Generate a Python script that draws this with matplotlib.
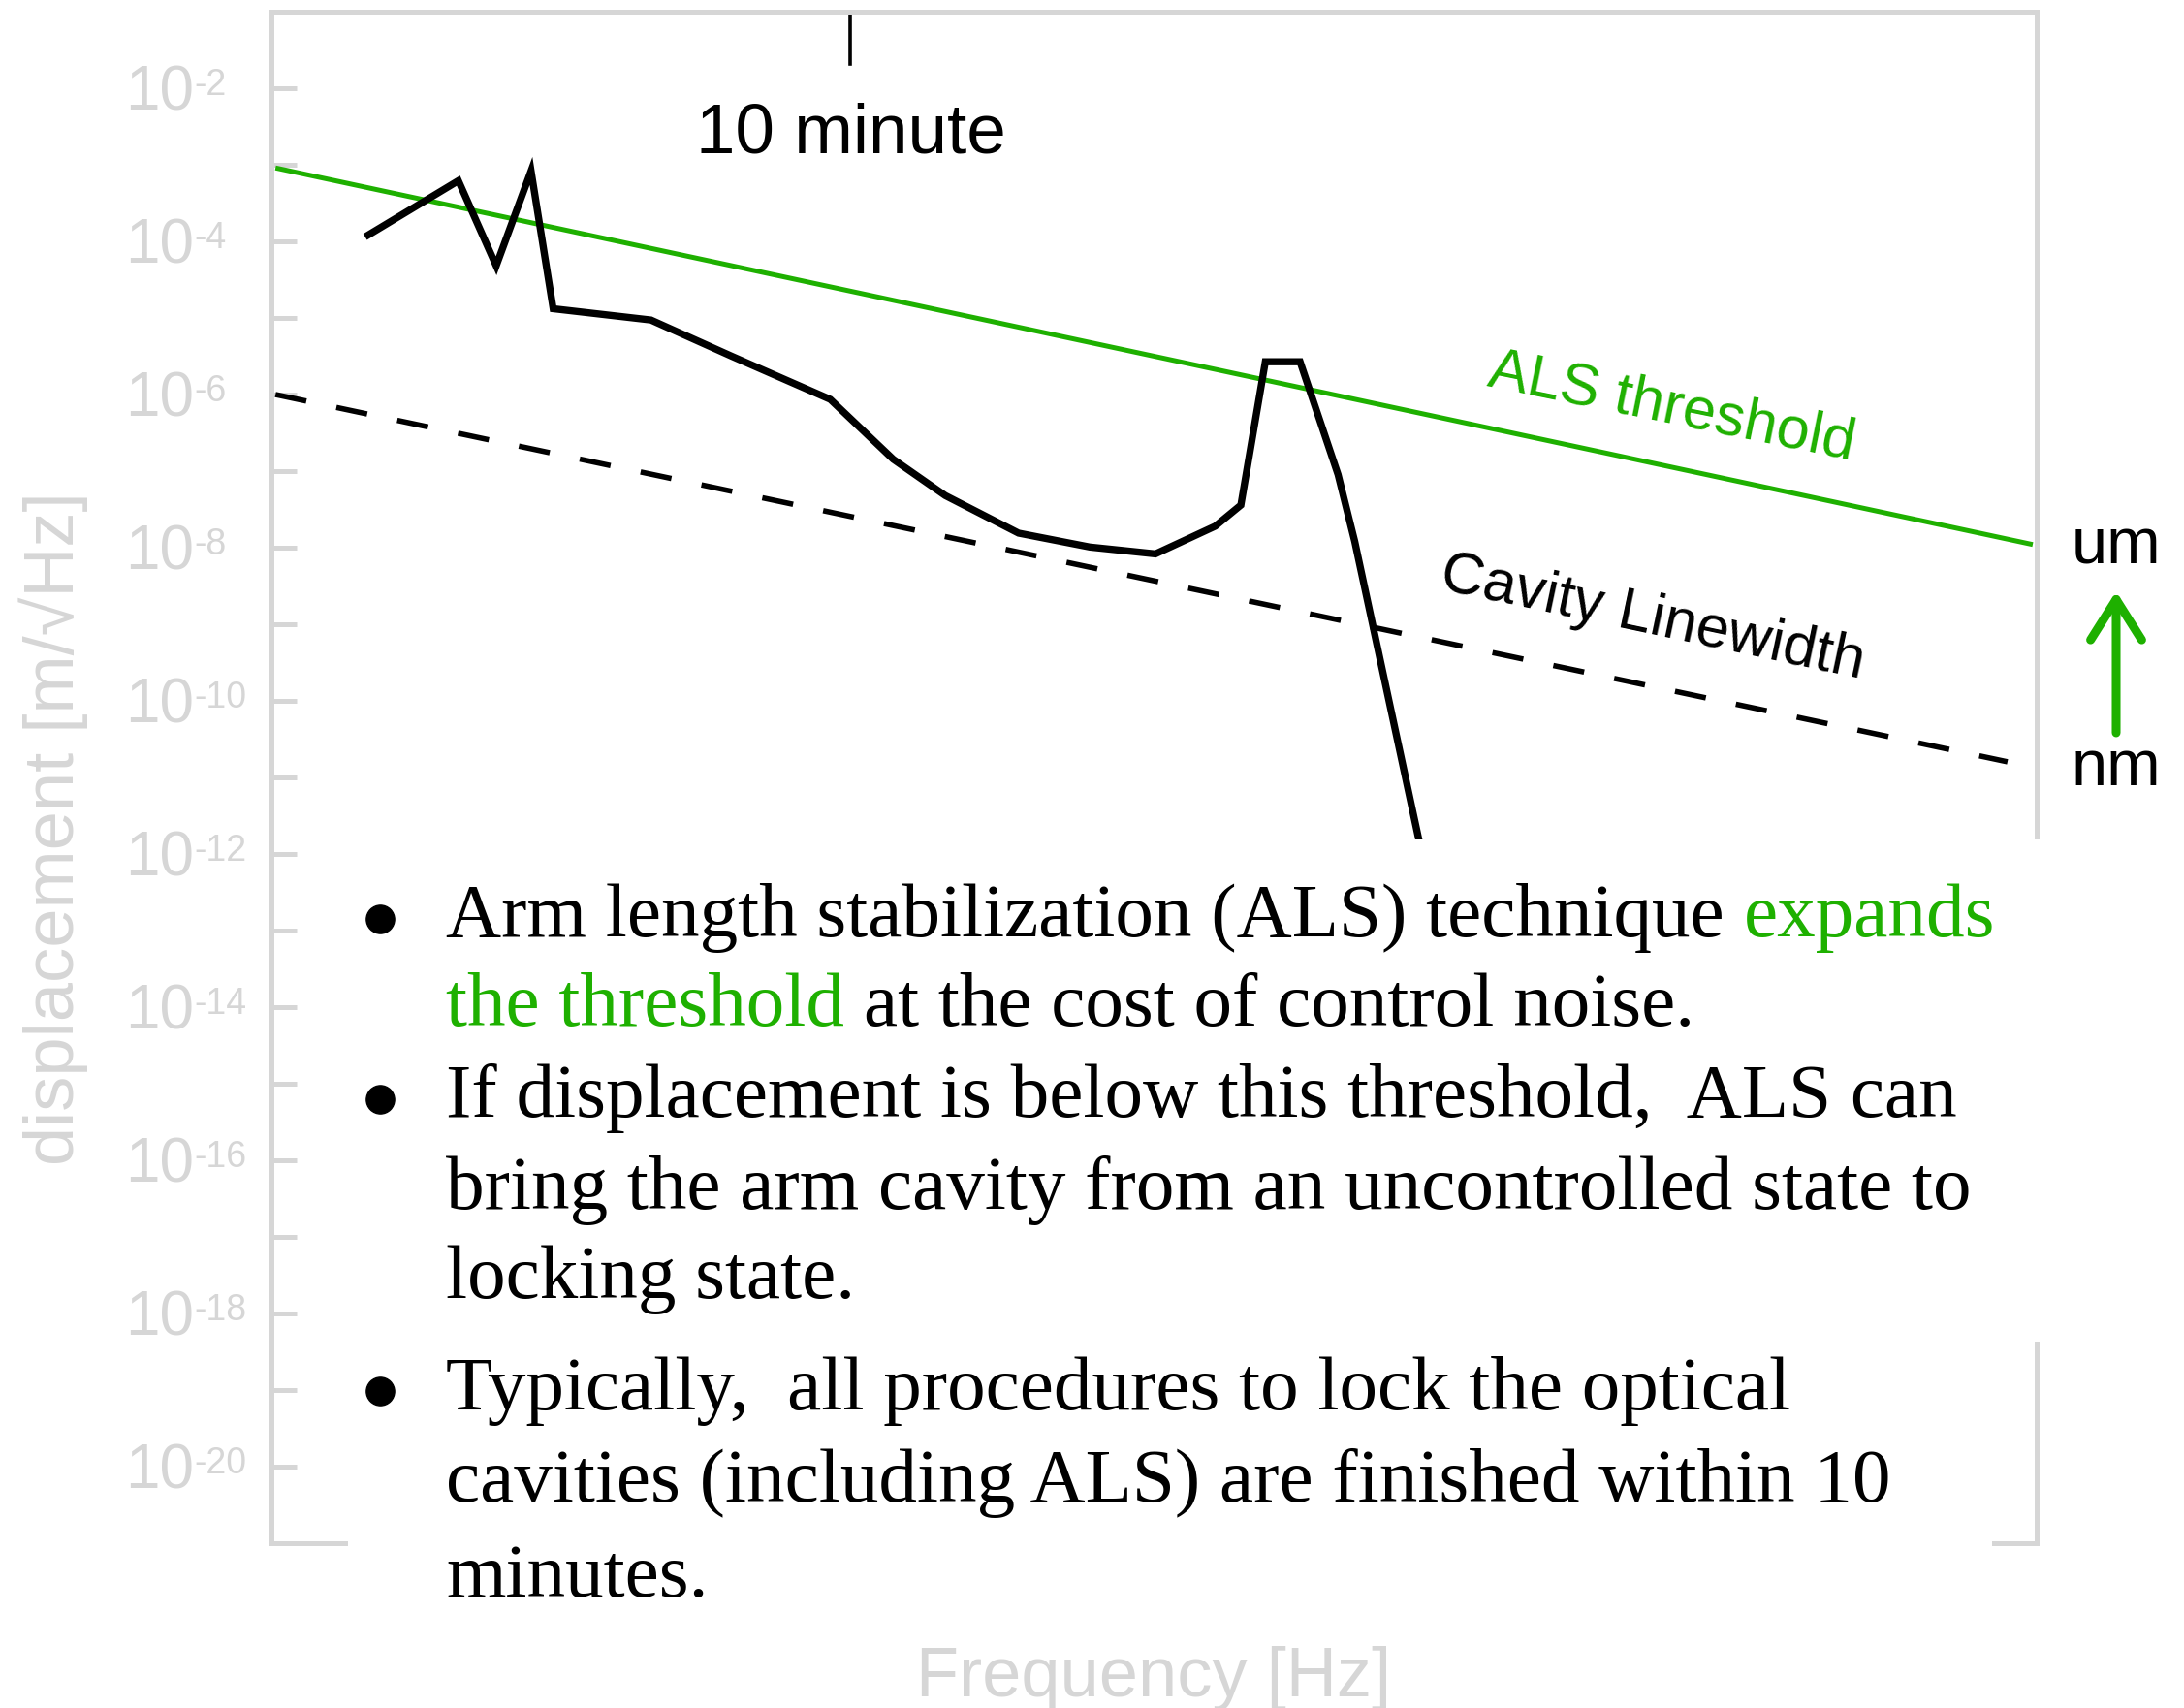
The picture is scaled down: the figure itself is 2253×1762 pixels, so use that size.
import matplotlib
matplotlib.use('Agg')
import matplotlib.pyplot as plt
import matplotlib.transforms as mtransforms
from matplotlib.patches import Rectangle, FancyArrowPatch
from matplotlib.text import Annotation
from matplotlib.lines import Line2D

# ---- data ----
freq_noise = [1.60e-4, 2.48e-4, 2.98e-4, 3.53e-4, 3.93e-4, 6.32e-4, 9.35e-4,
              1.51e-3, 2.05e-3, 2.64e-3, 3.77e-3, 5.33e-3, 7.33e-3, 9.8e-3,
              1.11e-2, 1.25e-2, 1.48e-2, 1.78e-2, 1.93e-2, 2.65e-2]
disp_noise = [1.21e-4, 6.2e-4, 4.8e-5, 8.3e-4, 1.32e-5, 9.4e-6, 3.17e-6,
              8.65e-7, 1.43e-7, 4.8e-8, 1.55e-8, 1.02e-8, 8.3e-9, 1.91e-8,
              3.6e-8, 2.68e-6, 2.68e-6, 9.0e-8, 1.21e-8, 1.31e-12]
freq_als = [1.02e-4, 0.52]
disp_als = [9.1e-4, 1.1e-8]
freq_cav = [1.02e-4, 0.46]
disp_cav = [1.0e-6, 1.6e-11]
ten_minute = 1.0 / 600
ytick_exp = list(range(-2, -21, -2))
yminor_exp = list(range(-3, -20, -2))

GREEN = '#1eb000'
GREY = '#d6d6d6'
SANS = ['Liberation Sans', 'DejaVu Sans']
SERIF = ['Liberation Serif', 'DejaVu Serif']

W, H = 2253, 1762
fx = lambda px: px / W
fy = lambda py: 1 - py / H

fig = plt.figure(figsize=(W / 100, H / 100), dpi=100)
ax = fig.add_axes([fx(280), fy(1592), (2101 - 280) / W, (1592 - 12) / H])
ax.set_xscale('log')
ax.set_yscale('log')
ax.set_xlim(1e-4, 0.53)
ax.set_ylim(1e-21, 1e-1)

for s in ax.spines.values():
    s.set_color(GREY)
    s.set_linewidth(3.6)

ax.set_yticks([10.0 ** e for e in ytick_exp])
ax.set_yticks([10.0 ** e for e in yminor_exp], minor=True)
ax.tick_params(axis='y', which='both', direction='in', length=19, width=3.6,
               color=GREY, labelleft=False, right=False)
ax.tick_params(axis='x', which='both', bottom=False, top=False, labelbottom=False)

# curves
ax.plot(freq_als, disp_als, color=GREEN, lw=3.6, solid_capstyle='butt')
cav, = ax.plot(freq_cav, disp_cav, color='k', lw=4.0)
cav.set_dashes([5.85, 5.7])
ax.plot(freq_noise, disp_noise, color='k', lw=5.3, solid_joinstyle='miter')

# 10 minute marker
ax.axvline(ten_minute, ymin=0.966, ymax=1.0, color='k', lw=2.6)
ax.text(ten_minute, 0.9076, '10 minute', transform=ax.get_xaxis_transform(),
        ha='center', va='baseline', fontsize=52.5, family=SANS)

ax.text(0.0902, 6.65e-7, 'ALS threshold', color=GREEN, fontsize=44, family=SANS,
        ha='center', va='center', rotation=-11.5, rotation_mode='anchor')
ax.text(0.0821, 1.16e-9, 'Cavity Linewidth', color='k', fontsize=44, family=SANS,
        ha='center', va='center', rotation=-12, rotation_mode='anchor')

# y tick labels: "10" with a small raised exponent
ytr = mtransforms.blended_transform_factory(ax.transAxes, ax.transData)
for e in ytick_exp:
    base = ax.annotate('10', xy=(-0.0829, 10.0 ** e), xycoords=ytr,
                       xytext=(0, -16.5), textcoords='offset points',
                       ha='left', va='baseline', fontsize=46, color=GREY,
                       family=SANS, annotation_clip=False)
    ax.annotate('-%d' % (-e), xy=(1, 0), xycoords=base, xytext=(0.5, 21),
                textcoords='offset points', ha='left', va='baseline',
                fontsize=27, color=GREY, family=SANS, annotation_clip=False)

fig.text(fx(55), fy(855), 'displacement [m/\u221aHz]', rotation=90, ha='center',
         va='center', fontsize=52, color=GREY, family=SANS)
fig.text(fx(1190), fy(1750), 'Frequency [Hz]', ha='center', va='baseline',
         fontsize=52, color=GREY, family=SANS)

# um / nm arrow on the right
fig.text(fx(2183), fy(565), 'um', ha='center', va='center', fontsize=48, family=SANS)
fig.text(fx(2183), fy(793), 'nm', ha='center', va='center', fontsize=48, family=SANS)
arr = FancyArrowPatch((fx(2183), fy(756)), (fx(2183), fy(610)),
                      transform=fig.transFigure, color=GREEN, lw=6.5,
                      arrowstyle='->,head_length=30,head_width=19',
                      mutation_scale=1, shrinkA=0, shrinkB=0)
fig.add_artist(arr)

# white text panel covering the lower part of the frame
fig.add_artist(Rectangle((fx(359), fy(1384)), (2110 - 359) / W, (1384 - 866) / H,
                         transform=fig.transFigure, facecolor='white',
                         edgecolor='none', zorder=2))
fig.add_artist(Rectangle((fx(359), fy(1720)), (2055 - 359) / W, (1720 - 1384) / H,
                         transform=fig.transFigure, facecolor='white',
                         edgecolor='none', zorder=2))

FS = 57
SPACE = 0.25 * FS


def text_line(y_px, parts, x_px=460):
    prev = None
    for txt, col in parts:
        if prev is None:
            prev = fig.text(fx(x_px), fy(y_px), txt, color=col, fontsize=FS,
                            family=SERIF, ha='left', va='baseline', zorder=4)
        else:
            a = Annotation(txt, xy=(1, 0), xycoords=prev, xytext=(SPACE, 0),
                           textcoords='offset points', ha='left', va='bottom',
                           color=col, fontsize=FS, family=SERIF, zorder=4)
            fig.add_artist(a)
            prev = a


text_line(966, [('Arm length stabilization (ALS) technique', 'k'), ('expands', GREEN)])
text_line(1058, [('the threshold', GREEN), ('at the cost of control noise.', 'k')])
text_line(1152, [('If displacement is below this threshold,  ALS can', 'k')])
text_line(1247, [('bring the arm cavity from an uncontrolled state to', 'k')])
text_line(1339, [('locking state.', 'k')])
text_line(1454, [('Typically,  all procedures to lock the optical', 'k')])
text_line(1549, [('cavities (including ALS) are finished within 10', 'k')])
text_line(1647, [('minutes.', 'k')])

for by in [948, 1134, 1435]:
    fig.add_artist(Line2D([fx(392)], [fy(by)], marker='o', markersize=21,
                          color='k', transform=fig.transFigure, zorder=4))

fig.savefig('out.png', dpi=100, facecolor='white')
